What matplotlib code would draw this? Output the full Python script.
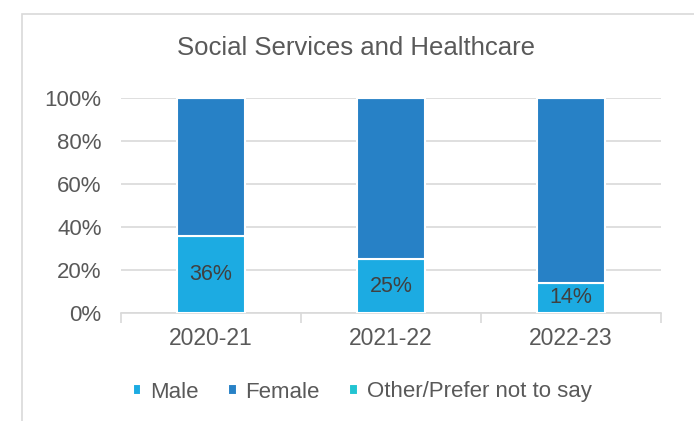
import matplotlib

matplotlib.use("Agg")
import numpy as np
from matplotlib import pyplot as plt
from matplotlib.patches import Rectangle

years = ["2020-21", "2021-22", "2022-23"]
male = [0.36, 0.25, 0.14]
female = [0.64, 0.75, 0.86]
other = [0.0, 0.0, 0.0]
male_labels = ["36%", "25%", "14%"]

plt.rcParams["font.family"] = ["Liberation Sans", "DejaVu Sans"]
text_col = "#595959"
grid_col = "#D9D9D9"

fig = plt.figure(figsize=(6.94, 4.21), dpi=100)
fig.patches.append(Rectangle((22 / 694, -0.1), 1.0, 1 - 14 / 421 + 0.1,
                             transform=fig.transFigure, fill=False,
                             edgecolor=grid_col, linewidth=1.2))
ax = fig.add_axes([121 / 694, 1 - 313 / 421, 540 / 694, 215 / 421])

x = np.arange(len(years))
w = 0.38
b1 = ax.bar(x, male, w, color="#1CABE2", edgecolor="white", linewidth=1.5,
            label="Male", zorder=3)
ax.bar(x, female, w, bottom=male, color="#2781C6", edgecolor="white",
       linewidth=1.5, label="Female", zorder=3)
ax.bar(x, other, w, bottom=np.add(male, female), color="#22C4D2",
       edgecolor="white", linewidth=1.5, label="Other/Prefer not to say", zorder=3)

for rect, lab in zip(b1, male_labels):
    ax.text(rect.get_x() + rect.get_width() / 2, rect.get_height() / 2, lab,
            ha="center", va="center", fontsize=15.5, color="#404040", zorder=4)

ax.set_xlim(-0.5, 2.5)
ax.set_ylim(0, 1)
ax.set_yticks(np.arange(0, 1.01, 0.2))
ax.set_yticklabels([f"{int(round(v * 100))}%" for v in np.arange(0, 1.01, 0.2)])
ax.set_xticks(x)
ax.set_xticklabels(years)
ax.set_xticks([-0.5, 0.5, 1.5, 2.5], minor=True)
ax.tick_params(axis="x", which="major", length=0, pad=10, labelsize=16.5, colors=text_col)
ax.tick_params(axis="x", which="minor", length=7, color=grid_col, width=1.2)
ax.tick_params(axis="y", length=0, pad=14, labelsize=16, colors=text_col)
ax.yaxis.grid(True, color=grid_col, linewidth=1.2, zorder=0)
for s in ["top", "right", "left"]:
    ax.spines[s].set_visible(False)
ax.spines["bottom"].set_color(grid_col)
ax.spines["bottom"].set_linewidth(1.2)

fig.text(356 / 694, 1 - 48 / 421, "Social Services and Healthcare",
         ha="center", va="center", fontsize=18.5, color=text_col)

leg = fig.legend(loc="center", bbox_to_anchor=(362 / 694, 1 - 392 / 421), ncol=3,
                 frameon=False, fontsize=16, handlelength=0.4, handleheight=0.4,
                 handletextpad=0.4, columnspacing=1.3, labelcolor=text_col)

fig.savefig("out.png", dpi=100)
